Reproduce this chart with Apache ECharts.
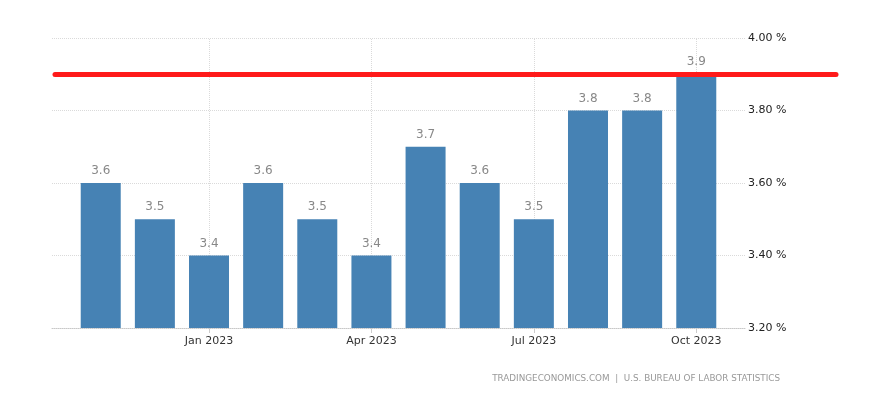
<!DOCTYPE html>
<html><head><meta charset="utf-8">
<script src="https://cdn.jsdelivr.net/npm/echarts@6/dist/echarts.min.js"></script>
<style>html,body{margin:0;padding:0;background:#fff}#c{width:886px;height:396px}</style>
</head><body><div id="c"></div>
<script>
const months = ['Nov 2022','Dec 2022','Jan 2023','Feb 2023','Mar 2023','Apr 2023','May 2023','Jun 2023','Jul 2023','Aug 2023','Sep 2023','Oct 2023'];
const values = [3.6,3.5,3.4,3.6,3.5,3.4,3.7,3.6,3.5,3.8,3.8,3.9];
const tickMonths = ['Jan 2023','Apr 2023','Jul 2023','Oct 2023'];
const refLevel = 3.9;
const sourceText = 'TRADINGECONOMICS.COM  |  U.S. BUREAU OF LABOR STATISTICS';

const tickIdx = tickMonths.map(m => months.indexOf(m));
const font = 'DejaVu Sans';
const chart = echarts.init(document.getElementById('c'));
chart.setOption({
  animation: false,
  title: {text: sourceText, right: 101, top: 369,
    textStyle: {fontFamily: font, fontSize: 8.8, fontWeight: 'normal', color: '#999'}},
  grid: [
    {left: 52, right: 141, top: 38, bottom: 68},
    {left: 55, right: 50, top: 38, bottom: 68}
  ],
  xAxis: [
    {type: 'value', gridIndex: 0, min: -0.9, max: 11.9,
     axisLine: {show: true, lineStyle: {color: '#c8c8c8', type: 'dotted'}},
     axisTick: {show: true, length: 5, customValues: tickIdx, lineStyle: {color: '#ccc'}},
     axisLabel: {customValues: tickIdx, formatter: v => months[Math.round(v)], color: '#333',
       fontFamily: font, fontSize: 11, margin: 8},
     splitLine: {show: false}},
    {type: 'value', gridIndex: 1, min: 0, max: 1, show: false}
  ],
  yAxis: [
    {type: 'value', gridIndex: 0, position: 'right', min: 3.2, max: 4.0, interval: 0.2,
     axisLine: {show: false}, axisTick: {show: false},
     axisLabel: {formatter: v => v.toFixed(2) + ' %', color: '#222', fontFamily: font, fontSize: 11, margin: 3},
     splitLine: {lineStyle: {color: '#dadada', type: 'dotted'}}},
    {type: 'value', gridIndex: 1, min: 3.2, max: 4.0, show: false}
  ],
  series: [
    {type: 'line', xAxisIndex: 0, yAxisIndex: 0, data: [], z: 1,
     markLine: {silent: true, symbol: 'none', label: {show: false}, z: 1,
       lineStyle: {color: '#dadada', type: 'dotted', width: 1},
       data: tickIdx.map(i => ({xAxis: i}))}},
    {type: 'bar', xAxisIndex: 0, yAxisIndex: 0, barWidth: 40, z: 3,
     data: values.map((v, i) => [i, v]),
     itemStyle: {color: '#4682b4'},
     label: {show: true, position: 'top', distance: 6, color: '#888', fontFamily: font, fontSize: 12,
       formatter: p => p.value[1].toFixed(1)}},
    {type: 'line', xAxisIndex: 1, yAxisIndex: 1, data: [], z: 5,
     markLine: {silent: true, symbol: 'none', label: {show: false}, z: 5,
       lineStyle: {color: '#ff1a1a', type: 'solid', width: 5, cap: 'round'},
       data: [{yAxis: refLevel}]}}
  ]
});
</script></body></html>
